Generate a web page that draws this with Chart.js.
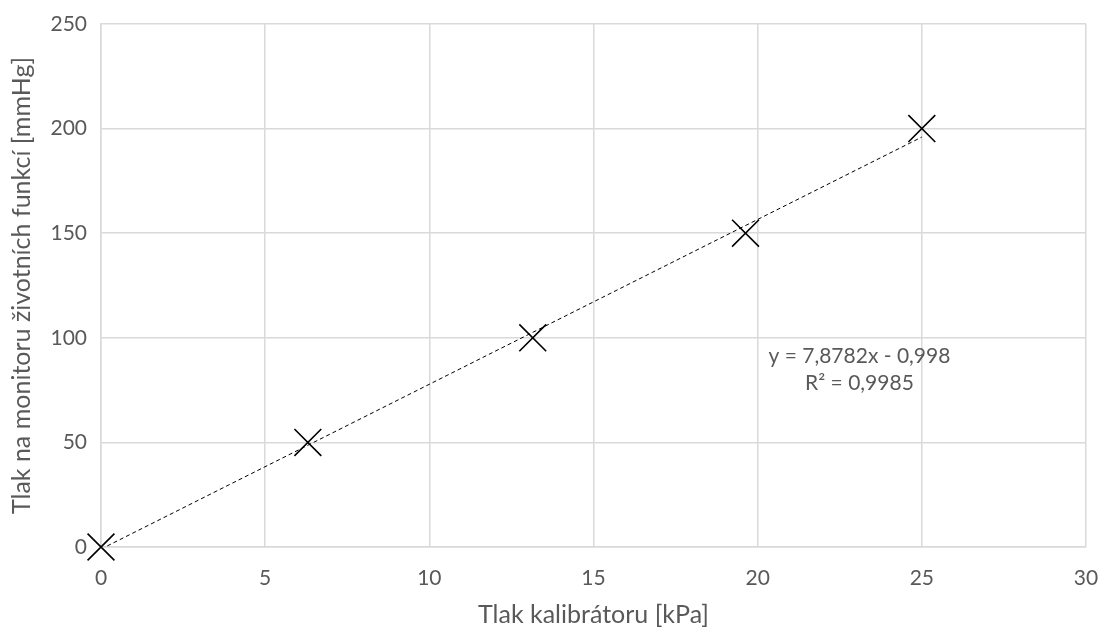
<!DOCTYPE html>
<html>
<head>
<meta charset="utf-8">
<script src="https://cdn.jsdelivr.net/npm/chart.js@4/dist/chart.umd.min.js"></script>
<style>
  html, body { margin: 0; padding: 0; background: #fff; }
  #wrap { width: 1102px; height: 630px; }
</style>
</head>
<body>
<div id="wrap"><canvas id="chart" width="1102" height="630"></canvas></div>
<script>
// measured points
const calibratorKPa = [0, 6.3, 13.15, 19.63, 25];
const monitorMmHg = [0, 50, 100, 150, 200];

// linear trendline shown in the chart
const trendSlope = 7.8782;
const trendIntercept = -0.998;
const trendRange = [0, 25];
const trendLabel = ['y = 7,8782x - 0,998', 'R² = 0,9985'];

const xTicks = [0, 5, 10, 15, 20, 25, 30];
const yTicks = [0, 50, 100, 150, 200, 250];

const font = 'Lato, "Open Sans", sans-serif';
const textColor = '#595959';
const gridColor = '#d9d9d9';

const points = calibratorKPa.map((x, i) => ({ x: x, y: monitorMmHg[i] }));
const trend = trendRange.map(x => ({ x: x, y: trendSlope * x + trendIntercept }));

const trendText = {
  id: 'trendText',
  afterDraw(chart) {
    const { ctx, scales } = chart;
    ctx.save();
    ctx.fillStyle = textColor;
    ctx.font = '21px ' + font;
    ctx.textAlign = 'center';
    ctx.textBaseline = 'middle';
    const x = scales.x.getPixelForValue(23.1);
    ctx.fillText(trendLabel[0], x, scales.y.getPixelForValue(91.2));
    ctx.fillText(trendLabel[1], x, scales.y.getPixelForValue(78.3));
    ctx.restore();
  }
};

const ctx = document.getElementById('chart').getContext('2d');
new Chart(ctx, {
  type: 'scatter',
  data: {
    datasets: [
      {
        label: 'trend',
        data: trend,
        showLine: true,
        borderColor: '#000',
        borderWidth: 1,
        borderDash: [4, 3],
        pointRadius: 0,
        fill: false
      },
      {
        label: 'Tlak',
        data: points,
        pointStyle: 'crossRot',
        pointRadius: 19,
        pointBorderColor: '#000',
        pointBorderWidth: 1.6,
        showLine: false,
        clip: false
      }
    ]
  },
  options: {
    responsive: false,
    animation: false,
    layout: { autoPadding: false, padding: { top: 24, right: 16, left: 0, bottom: 0 } },
    plugins: {
      legend: { display: false },
      tooltip: { enabled: false }
    },
    scales: {
      x: {
        type: 'linear',
        min: 0,
        max: 30,
        afterBuildTicks: (scale) => { scale.ticks = xTicks.map(v => ({ value: v })); },
        afterFit: (scale) => {
          scale.height = 83;
          scale.paddingRight = 0;
          scale.paddingLeft = 0;
        },
        grid: { color: gridColor, lineWidth: 1.5, drawTicks: false },
        border: { color: gridColor, width: 1.5 },
        ticks: { color: textColor, font: { family: font, size: 21 }, padding: 19 },
        title: {
          display: true,
          text: 'Tlak kalibrátoru [kPa]',
          color: textColor,
          font: { family: font, size: 25 },
          padding: { top: 0, bottom: 0 }
        }
      },
      y: {
        type: 'linear',
        min: 0,
        max: 250,
        afterBuildTicks: (scale) => { scale.ticks = yTicks.map(v => ({ value: v })); },
        afterFit: (scale) => {
          scale.width = 101;
          scale.paddingTop = 0;
          scale.paddingBottom = 0;
        },
        grid: { color: gridColor, lineWidth: 1.5, drawTicks: false },
        border: { color: gridColor, width: 1.5 },
        ticks: { color: textColor, font: { family: font, size: 21 }, padding: 14 },
        title: {
          display: true,
          text: 'Tlak na monitoru životních funkcí [mmHg]',
          color: textColor,
          font: { family: font, size: 25 },
          padding: { top: 7, bottom: 0 }
        }
      }
    }
  },
  plugins: [trendText]
});
</script>
</body>
</html>
